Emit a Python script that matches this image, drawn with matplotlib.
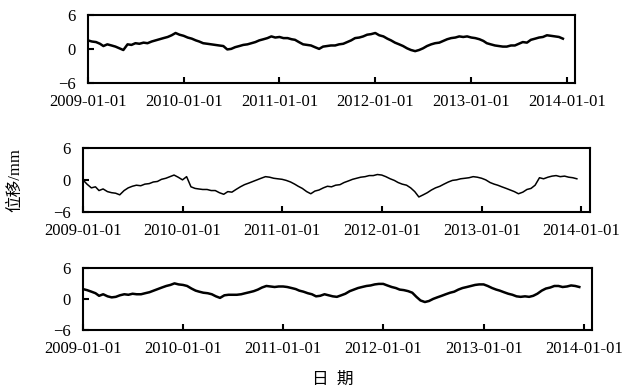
import pandas as pd
import matplotlib
matplotlib.use("Agg")
import matplotlib.pyplot as plt
import matplotlib.dates as mdates

plt.rcParams["font.family"] = ["Liberation Serif", "Noto Sans CJK SC"]

# semi-monthly sample dates (1st and 16th of each month), 2009-01 .. 2013-12
dates = []
for y in range(2009, 2014):
    for m in range(1, 13):
        dates.append(pd.Timestamp(y, m, 1))
        dates.append(pd.Timestamp(y, m, 16))

# displacement (mm)
disp_top = [
    1.5, 1.3, 1.2, 0.9, 0.5, 0.8, 0.6, 0.4, 0.1, -0.2, 0.8, 0.7,
    1.0, 0.9, 1.1, 1.0, 1.3, 1.5, 1.7, 1.9, 2.1, 2.4, 2.8, 2.5,
    2.3, 2.0, 1.8, 1.5, 1.3, 1.0, 0.9, 0.8, 0.7, 0.6, 0.5, -0.1,
    0.0, 0.3, 0.5, 0.7, 0.8, 1.0, 1.2, 1.5, 1.7, 1.9, 2.2, 2.0,
    2.1, 1.9, 1.9, 1.7, 1.6, 1.2, 0.8, 0.7, 0.6, 0.3, 0.0, 0.4,
    0.5, 0.6, 0.6, 0.8, 0.9, 1.2, 1.5, 1.9, 2.0, 2.2, 2.5, 2.6,
    2.8, 2.4, 2.2, 1.8, 1.5, 1.1, 0.8, 0.5, 0.1, -0.2, -0.4, -0.2,
    0.1, 0.5, 0.8, 1.0, 1.1, 1.4, 1.7, 1.9, 2.0, 2.2, 2.1, 2.2,
    2.0, 1.9, 1.7, 1.4, 1.0, 0.8, 0.6, 0.5, 0.4, 0.4, 0.6, 0.6,
    0.9, 1.2, 1.1, 1.6, 1.8, 2.0, 2.1, 2.4, 2.3, 2.2, 2.1, 1.8,
]
disp_mid = [
    0.0, -0.8, -1.5, -1.3, -2.0, -1.7, -2.2, -2.4, -2.5, -2.8, -2.0, -1.5,
    -1.2, -1.0, -1.1, -0.8, -0.7, -0.4, -0.3, 0.1, 0.3, 0.6, 0.9, 0.5,
    0.0, 0.6, -1.3, -1.6, -1.7, -1.8, -1.8, -2.0, -2.0, -2.4, -2.7, -2.2,
    -2.3, -1.8, -1.3, -0.9, -0.6, -0.3, 0.0, 0.3, 0.6, 0.5, 0.3, 0.2,
    0.1, -0.1, -0.4, -0.8, -1.2, -1.6, -2.2, -2.6, -2.1, -1.9, -1.5, -1.2,
    -1.3, -1.0, -0.9, -0.5, -0.2, 0.1, 0.3, 0.5, 0.6, 0.8, 0.8, 1.0,
    0.9, 0.6, 0.2, -0.1, -0.5, -0.8, -1.0, -1.5, -2.2, -3.2, -2.8, -2.4,
    -1.9, -1.5, -1.2, -0.8, -0.4, -0.1, 0.0, 0.2, 0.3, 0.4, 0.6, 0.5,
    0.3, 0.0, -0.5, -0.8, -1.0, -1.3, -1.6, -1.9, -2.2, -2.6, -2.3, -1.8,
    -1.6, -1.0, 0.4, 0.2, 0.5, 0.7, 0.8, 0.6, 0.7, 0.5, 0.4, 0.2,
]
disp_bot = [
    1.9, 1.7, 1.4, 1.1, 0.6, 0.9, 0.5, 0.3, 0.4, 0.7, 0.9, 0.8,
    1.0, 0.9, 0.9, 1.1, 1.3, 1.6, 1.9, 2.2, 2.5, 2.7, 3.0, 2.8,
    2.7, 2.5, 2.0, 1.6, 1.4, 1.2, 1.1, 0.9, 0.5, 0.2, 0.7, 0.8,
    0.8, 0.8, 0.9, 1.1, 1.3, 1.5, 1.8, 2.2, 2.5, 2.4, 2.3, 2.4,
    2.4, 2.3, 2.1, 1.9, 1.6, 1.4, 1.1, 0.9, 0.5, 0.6, 0.9, 0.7,
    0.5, 0.4, 0.7, 1.0, 1.5, 1.8, 2.1, 2.3, 2.5, 2.6, 2.8, 2.9,
    2.9, 2.6, 2.3, 2.1, 1.8, 1.7, 1.5, 1.2, 0.4, -0.3, -0.6, -0.4,
    0.0, 0.3, 0.6, 0.9, 1.2, 1.4, 1.8, 2.1, 2.3, 2.5, 2.7, 2.8,
    2.8, 2.5, 2.1, 1.8, 1.6, 1.3, 1.0, 0.8, 0.5, 0.4, 0.5, 0.4,
    0.6, 1.0, 1.6, 2.0, 2.2, 2.5, 2.5, 2.3, 2.4, 2.6, 2.5, 2.3,
]

tick_dates = [pd.Timestamp(y, 1, 1) for y in range(2009, 2015)]
y_ticks = [-6, 0, 6]

fig = plt.figure(figsize=(6.28, 3.91), dpi=100)

# [left, bottom, width, height] for each panel
boxes = [
    [0.140, 0.788, 0.776, 0.174],
    [0.132, 0.458, 0.807, 0.164],
    [0.132, 0.156, 0.811, 0.159],
]
series = [disp_top, disp_mid, disp_bot]
widths = [1.8, 1.1, 1.8]

for box, vals, lw in zip(boxes, series, widths):
    ax = fig.add_axes(box)
    ax.plot(dates, vals, color="black", linewidth=lw)
    ax.set_xlim(pd.Timestamp(2009, 1, 1), pd.Timestamp(2014, 2, 1))
    ax.set_ylim(-6, 6)
    ax.set_yticks(y_ticks)
    ax.set_xticks(tick_dates)
    ax.xaxis.set_major_formatter(mdates.DateFormatter("%Y-%m-%d"))
    ax.tick_params(direction="in", length=4, width=1.5, labelsize=12)
    ax.tick_params(axis="x", pad=8)
    ax.tick_params(axis="y", pad=9)
    for sp in ax.spines.values():
        sp.set_linewidth(1.5)

fig.text(0.025, 0.54, "位移/mm", rotation=90, ha="center", va="center", fontsize=12)
fig.text(0.53, 0.028, "日  期", ha="center", va="center", fontsize=12)

fig.savefig("out.png", dpi=100)
